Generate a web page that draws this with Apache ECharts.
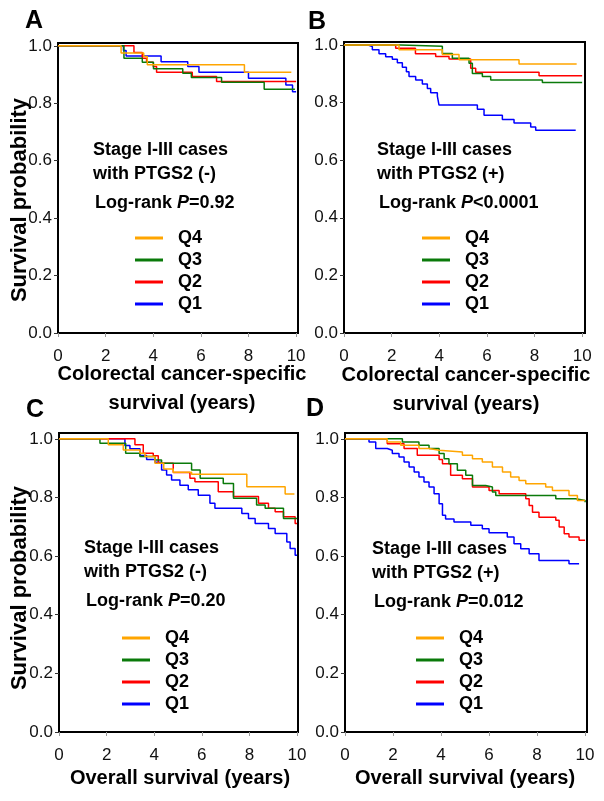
<!DOCTYPE html>
<html><head><meta charset="utf-8">
<script src="https://cdn.jsdelivr.net/npm/echarts@6/dist/echarts.min.js"></script>
<style>html,body{margin:0;padding:0;background:#fff}#c{width:604px;height:801px}</style>
</head><body><div id="c"></div>
<script>
// ---- data (time in years, survival probability) ----
var groups = ['Q1','Q2','Q3','Q4'];
var legendOrder = ['Q4','Q3','Q2','Q1'];
var xTicks = [0,2,4,6,8,10];
var yTicks = [0,0.2,0.4,0.6,0.8,1.0];

var A_Q4 = [[0,1],[2.65,0.975],[3.6,0.963],[3.75,0.934],[7.83,0.908],[9.8,0.908]];
var A_Q3 = [[0,1],[2.77,0.957],[3.54,0.943],[4.01,0.92],[5.24,0.905],[5.6,0.89],[6.87,0.873],[8.66,0.849],[9.95,0.849]];
var A_Q2 = [[0,1],[3.19,0.977],[3.54,0.957],[3.72,0.943],[4.0,0.928],[4.14,0.908],[5.64,0.893],[6.66,0.876],[10.0,0.876]];
var A_Q1 = [[0,1],[2.75,0.984],[2.86,0.965],[4.33,0.945],[5.45,0.928],[5.92,0.908],[8.0,0.887],[9.57,0.864],[9.85,0.84],[10.0,0.84]];

var B_Q4 = [[0,1],[2.31,0.983],[4.13,0.967],[4.83,0.948],[7.35,0.934],[9.77,0.934]];
var B_Q3 = [[0,1],[2.38,0.995],[4.13,0.97],[4.55,0.954],[5.25,0.936],[5.39,0.901],[5.81,0.89],[6.16,0.878],[8.33,0.869],[10.0,0.869]];
var B_Q2 = [[0,1],[2.17,0.988],[3.0,0.969],[3.85,0.96],[4.41,0.951],[5.32,0.919],[5.53,0.905],[8.19,0.893],[10.0,0.893]];
var B_Q1 = [[0,1],[0.98,0.994],[1.19,0.983],[1.47,0.969],[1.75,0.959],[2.03,0.95],[2.24,0.938],[2.45,0.922],[2.62,0.907],[2.73,0.89],[3.01,0.878],[3.29,0.864],[3.5,0.849],[3.64,0.834],[3.92,0.822],[3.99,0.791],[5.6,0.777],[5.88,0.756],[6.65,0.741],[7.14,0.729],[7.84,0.715],[8.05,0.704],[9.73,0.704]];

var C_Q4 = [[0,1],[2.07,0.98],[2.7,0.962],[3.4,0.951],[3.61,0.94],[4.03,0.917],[4.4,0.897],[4.8,0.886],[5.57,0.879],[7.89,0.837],[9.5,0.812],[9.89,0.812]];
var C_Q3 = [[0,1],[1.72,0.985],[2.8,0.951],[3.4,0.94],[4.03,0.928],[4.31,0.917],[5.57,0.894],[5.93,0.866],[6.9,0.848],[7.33,0.797],[8.3,0.774],[8.66,0.763],[9.43,0.728],[10.0,0.728]];
var C_Q2 = [[0,1],[3.19,0.98],[3.54,0.951],[3.96,0.942],[4.17,0.917],[4.8,0.885],[5.5,0.866],[5.71,0.854],[6.69,0.82],[7.33,0.803],[8.38,0.78],[8.8,0.763],[9.08,0.751],[9.43,0.734],[9.92,0.711],[10.0,0.711]];
var C_Q1 = [[0,1],[2.77,0.977],[2.98,0.966],[3.4,0.943],[3.68,0.93],[4.03,0.92],[4.31,0.894],[4.52,0.877],[4.73,0.86],[5.08,0.842],[5.43,0.826],[5.85,0.808],[6.34,0.78],[6.55,0.763],[7.68,0.745],[7.96,0.728],[8.24,0.711],[8.8,0.694],[9.08,0.677],[9.57,0.648],[9.71,0.626],[9.92,0.603],[10.0,0.603]];

var D_Q4 = [[0,1],[1.76,0.989],[2.32,0.978],[3.08,0.967],[3.5,0.961],[3.92,0.955],[4.89,0.944],[5.31,0.932],[5.72,0.921],[6.14,0.904],[6.56,0.887],[6.9,0.87],[7.25,0.858],[7.53,0.847],[8.36,0.836],[8.64,0.824],[9.33,0.807],[9.68,0.79],[10.0,0.79]];
var D_Q3 = [[0,1],[2.39,0.989],[3.08,0.978],[3.5,0.967],[3.92,0.95],[4.13,0.932],[4.33,0.915],[4.68,0.893],[5.03,0.876],[5.31,0.841],[5.86,0.836],[6.14,0.819],[6.28,0.807],[8.78,0.796],[9.61,0.79],[10.0,0.784]];
var D_Q2 = [[0,1],[1.76,0.983],[2.46,0.967],[3.01,0.944],[3.92,0.93],[4.06,0.915],[4.4,0.876],[4.89,0.864],[5.31,0.836],[6.0,0.824],[6.42,0.813],[7.53,0.796],[7.67,0.773],[7.81,0.75],[8.08,0.733],[8.78,0.722],[8.92,0.699],[9.13,0.676],[9.33,0.665],[9.75,0.654],[10.0,0.654]];
var D_Q1 = [[0,1],[1.0,0.989],[1.28,0.967],[1.76,0.961],[1.97,0.95],[2.25,0.938],[2.46,0.921],[2.67,0.904],[2.88,0.887],[3.08,0.87],[3.29,0.853],[3.5,0.836],[3.71,0.813],[3.92,0.779],[4.06,0.739],[4.19,0.727],[4.54,0.716],[5.24,0.705],[5.72,0.693],[6.0,0.68],[6.76,0.665],[7.04,0.642],[7.32,0.625],[7.67,0.608],[8.08,0.585],[9.33,0.574],[9.75,0.574]];

var panelData = [
  {Q1:A_Q1,Q2:A_Q2,Q3:A_Q3,Q4:A_Q4},
  {Q1:B_Q1,Q2:B_Q2,Q3:B_Q3,Q4:B_Q4},
  {Q1:C_Q1,Q2:C_Q2,Q3:C_Q3,Q4:C_Q4},
  {Q1:D_Q1,Q2:D_Q2,Q3:D_Q3,Q4:D_Q4}
];
var panelLetters = ['A','B','C','D'];
var line1 = ['Stage I-III cases','Stage I-III cases','Stage I-III cases','Stage I-III cases'];
var line2 = ['with PTGS2 (-)','with PTGS2 (+)','with PTGS2 (-)','with PTGS2 (+)'];
var pvals = ['=0.92','<0.0001','=0.20','=0.012'];
var xTitles = [['Colorectal cancer-specific','survival (years)'],['Colorectal cancer-specific','survival (years)'],['Overall survival (years)'],['Overall survival (years)']];
var yTitle = 'Survival probability';

// ---- styling / layout ----
var colors = {Q4:'#FFA500', Q3:'#0A7A0A', Q2:'#FF0000', Q1:'#0000FF'};
var NARROW = "'Liberation Sans Narrow','Liberation Sans',Arial,sans-serif";
var SANS = "'Liberation Sans',Arial,sans-serif";
var grids = [
  {left:58, top:43, width:240, height:290, xmax:10.08, ymax:1.01},
  {left:344, top:42, width:241, height:291, xmax:10.12, ymax:1.01},
  {left:59, top:433, width:239, height:299, xmax:10.04, ymax:1.02},
  {left:345, top:433, width:242, height:299, xmax:10.08, ymax:1.02}
];
var textPos = [
  {x:93, y:150, lx:135, ly:227},
  {x:377, y:150, lx:422, ly:227},
  {x:84, y:548, lx:122, ly:627},
  {x:372, y:549, lx:416, ly:627}
];

var option = {
  animation:false,
  backgroundColor:'#fff',
  grid:[], xAxis:[], yAxis:[], series:[], legend:[], graphic:[]
};

grids.forEach(function(g,i){
  option.grid.push({left:g.left, top:g.top, width:g.width, height:g.height, show:true,
    borderColor:'#000', borderWidth:2, backgroundColor:'transparent'});
  option.xAxis.push({type:'value', gridIndex:i, min:0, max:g.xmax, interval:2,
    axisLine:{show:false}, splitLine:{show:false},
    axisTick:{show:true, length:4, lineStyle:{color:'#999', width:1}, customValues:xTicks},
    axisLabel:{margin:15, fontFamily:NARROW, fontSize:17, color:'#111', customValues:xTicks,
      formatter:function(v){ return (Math.abs(v/2-Math.round(v/2))<1e-6) ? String(Math.round(v)) : ''; }}
  });
  option.yAxis.push({type:'value', gridIndex:i, min:0, max:g.ymax, interval:0.2,
    axisLine:{show:false}, splitLine:{show:false},
    axisTick:{show:true, length:4, lineStyle:{color:'#333', width:1}, customValues:yTicks},
    axisLabel:{margin:6, fontFamily:NARROW, fontSize:17, color:'#111', customValues:yTicks,
      formatter:function(v){ return (Math.abs(v*5-Math.round(v*5))<1e-6) ? v.toFixed(1) : ''; }}
  });
  groups.forEach(function(q){
    option.series.push({type:'line', name:q, xAxisIndex:i, yAxisIndex:i, step:'end',
      data:panelData[i][q], showSymbol:false, symbol:'none', color:colors[q],
      lineStyle:{color:colors[q], width:1.5}, clip:true});
  });
  var tp = textPos[i];
  option.legend.push({left:tp.lx, top:tp.ly, orient:'vertical', data:legendOrder, selectedMode:false,
    icon:'rect', itemWidth:28, itemHeight:3, itemGap:0, padding:0,
    textStyle:{fontFamily:SANS, fontWeight:'bold', fontSize:18, color:'#000', lineHeight:22, padding:[0,0,0,10]}});
  option.graphic.push({type:'text', x:tp.x, y:tp.y, style:{text:line1[i], font:'bold 18px '+SANS, fill:'#000', textAlign:'left', textVerticalAlign:'middle'}});
  option.graphic.push({type:'text', x:tp.x, y:tp.y+24, style:{text:line2[i], font:'bold 18px '+SANS, fill:'#000', textAlign:'left', textVerticalAlign:'middle'}});
  option.graphic.push({type:'text', x:tp.x+2, y:tp.y+53, style:{
    text:'{a|Log-rank }{b|P}{a|'+pvals[i]+'}', textVerticalAlign:'middle', textAlign:'left',
    rich:{a:{fontFamily:SANS, fontWeight:'bold', fontSize:18, color:'#000'},
          b:{fontFamily:SANS, fontWeight:'bold', fontStyle:'italic', fontSize:18, color:'#000'}}}});
});

// panel letters
var letterPos = [[34,21],[317,22],[35,410],[315,409]];
letterPos.forEach(function(p,i){
  option.graphic.push({type:'text', x:p[0], y:p[1], style:{text:panelLetters[i], font:'bold 25px '+SANS, fill:'#000', textAlign:'center', textVerticalAlign:'middle'}});
});
// y titles
[[20,200],[20,588]].forEach(function(p){
  option.graphic.push({type:'text', x:p[0], y:p[1], rotation:Math.PI/2, style:{text:yTitle, font:'bold 22px '+SANS, fill:'#000', textAlign:'center', textVerticalAlign:'middle'}});
});
// x titles
var xTitlePos = [[182,374],[466,375],[180,778],[465,778]];
xTitles.forEach(function(t,i){
  t.forEach(function(s,k){
    option.graphic.push({type:'text', x:xTitlePos[i][0], y:xTitlePos[i][1]+k*29, style:{text:s, font:'bold 20px '+SANS, fill:'#000', textAlign:'center', textVerticalAlign:'middle'}});
  });
});

var chart = echarts.init(document.getElementById('c'), null, {renderer:'canvas'});
chart.setOption(option);
</script></body></html>
